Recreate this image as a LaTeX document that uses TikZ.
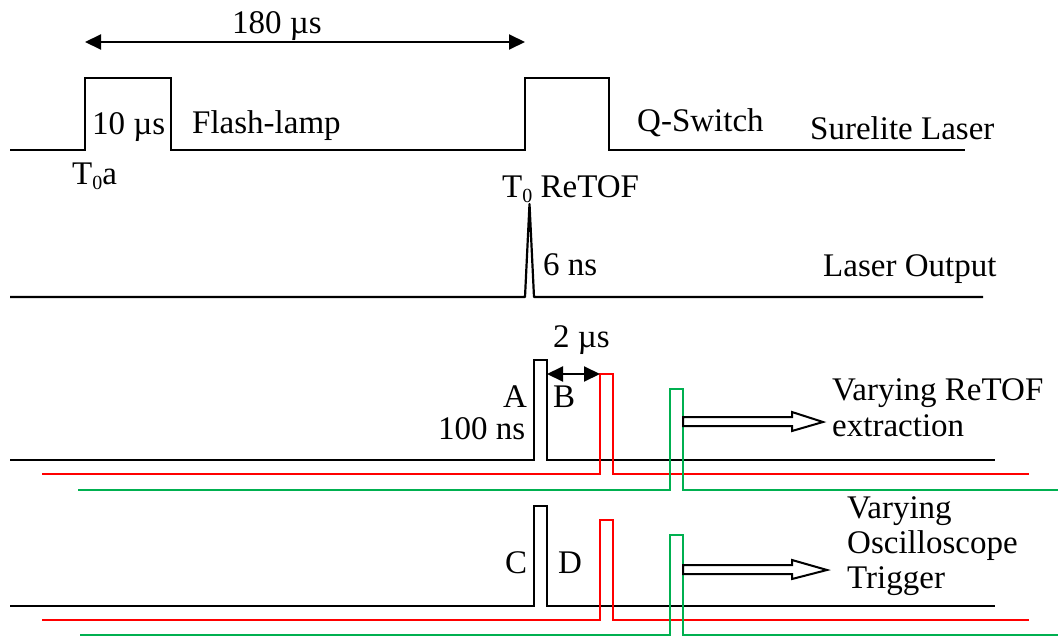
\documentclass[tikz,border=0pt]{standalone}
\usepackage{fontspec}
\setmainfont{Liberation Serif}
\usepackage{tikz}
\usetikzlibrary{arrows.meta,positioning,calc}
\definecolor{SigRed}{HTML}{FF0000}
\definecolor{SigGreen}{HTML}{00B050}
\newcommand{\Tsub}{T\raisebox{-5pt}{\fontsize{20}{20}\selectfont 0}}

\begin{document}
\begin{tikzpicture}[x=1pt,y=-1pt,
  sig/.style={line width=2.2pt,line join=miter},
  redsig/.style={line width=2pt,draw=SigRed},
  greensig/.style={line width=2pt,draw=SigGreen},
  lbl/.style={inner sep=0pt,anchor=base west,font=\fontsize{33}{38}\selectfont},
  span/.style={{Triangle[length=16pt,width=15pt]}-{Triangle[length=16pt,width=15pt]},line width=2pt},
  hollow/.style={draw,line width=2pt,fill=white,line join=miter}
]
  \useasboundingbox (0,0) rectangle (1058,637);

  % Surelite laser
  \draw[sig] (10,150) -- (85,150) |- (171,78) |- (525,150) |- (609,78) |- (965,150);
  \coordinate (fstart) at (85,42);
  \coordinate (qstart) at (525,42);
  \draw[span] (fstart) -- (qstart);
  \node[lbl] (dtime) at (232,33) {180 µs};
  \node[lbl] (wflash) at (92,134) {10 µs};
  \node[lbl] (flash) at (192,133) {Flash-lamp};
  \node[lbl] (qswitch) at (637,131) {Q-Switch};
  \node[lbl] (surelite) at (810,139) {Surelite Laser};
  \node[lbl] (tzeroa) at (72,184) {\Tsub a};

  % laser output
  \draw[sig,line join=round] (10,297) -- (525,297) -- (529.5,204) -- (534,297) -- (983,297);
  \node[lbl] (tzeror) at (502,197) {\Tsub\ ReTOF};
  \node[lbl] (wlaser) at (543,275) {6 ns};
  \node[lbl] (output) at (823,276) {Laser Output};

  % ReTOF extraction
  \draw[sig] (10,460) -- (534,460) |- (547,360) |- (995,460);
  \draw[redsig] (42,474) -- (600,474) |- (613,374) |- (1029,474);
  \draw[greensig] (78,490) -- (670,490) |- (683,389) |- (1058,490);
  \coordinate (aend) at (547,374);
  \coordinate (rrise) at (600,374);
  \draw[span] (aend) -- (rrise);
  \draw[hollow] (683,417) -- (792,417) -- (792,412) -- (823,422) -- (792,431) -- (792,426) -- (683,426) -- cycle;
  \node[lbl] (wdelay) at (553,347) {2 µs};
  \node[lbl] (pa) at (503,407) {A};
  \node[lbl] (pb) at (553,407) {B};
  \node[lbl] (wpulse) at (438,439) {100 ns};
  \node[lbl] (vary1) at (832,400) {Varying ReTOF};
  \node[lbl] (extr) at (832,436) {extraction};

  % oscilloscope trigger
  \draw[sig] (10,606) -- (534,606) |- (547,506) |- (995,606);
  \draw[redsig] (42,620) -- (600,620) |- (613,520) |- (1029,620);
  \draw[greensig] (80,635) -- (670,635) |- (683,535) |- (1058,635);
  \draw[hollow] (683,565) -- (792,565) -- (792,560) -- (827,570) -- (792,579) -- (792,574) -- (683,574) -- cycle;
  \node[lbl] (pc) at (505,573) {C};
  \node[lbl] (pd) at (558,573) {D};
  \node[lbl] (vary2) at (847,518) {Varying};
  \node[lbl] (osc) at (847,553) {Oscilloscope};
  \node[lbl] (trig) at (847,588) {Trigger};
\end{tikzpicture}
\end{document}
